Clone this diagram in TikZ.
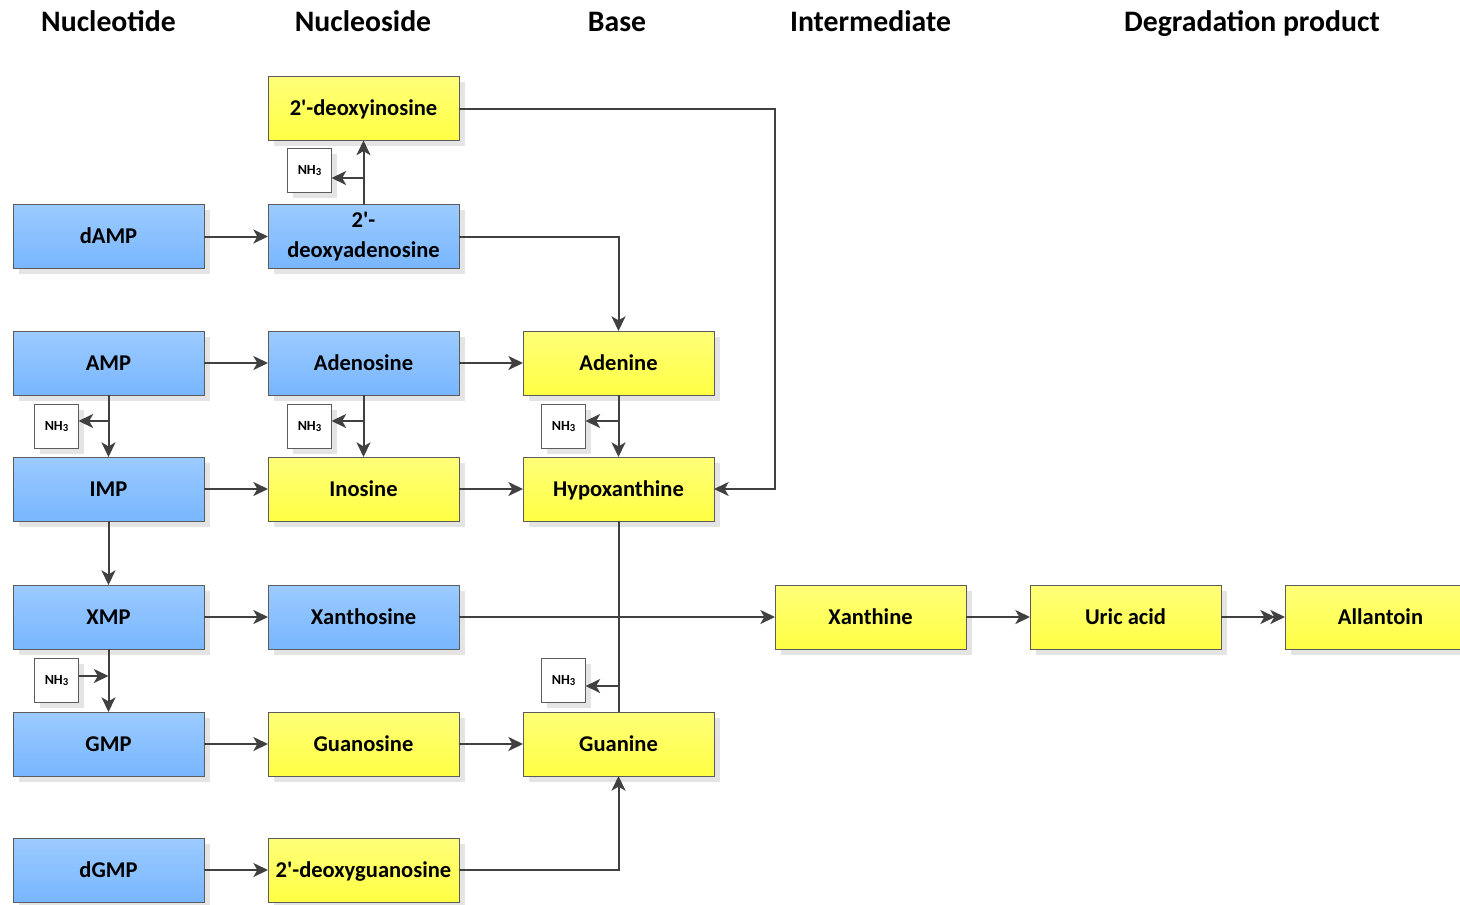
\documentclass[tikz,border=0pt]{standalone}
\usepackage{fontspec}
\setmainfont{Carlito}
\usetikzlibrary{arrows.meta,shadows}
\definecolor{linegray}{HTML}{404040}
\definecolor{boxgray}{HTML}{5C5C5C}
\definecolor{shadowgray}{HTML}{E4E4E4}
\definecolor{bluetop}{HTML}{9CCBFF}
\definecolor{bluebot}{HTML}{78B6FF}
\definecolor{yeltop}{HTML}{FFFF7A}
\definecolor{yelbot}{HTML}{FFFF44}
\newcommand{\ap}{\textquotesingle}
\tikzset{
  shadowed/.style={drop shadow={shadow xshift=4.2pt, shadow yshift=-4.2pt, fill=shadowgray, opacity=1}},
  box/.style={draw=boxgray, line width=0.75pt, minimum width=143.25pt, minimum height=48pt,
    inner sep=0pt, outer sep=0pt, align=center, shadowed, text height=13.5pt, text depth=2.8pt,
    font=\fontsize{16.9}{22.5}\bfseries\selectfont},
  twoline/.style={text height=, text depth=},
  bluebox/.style={box, top color=bluetop, bottom color=bluebot},
  yelbox/.style={box, top color=yeltop, bottom color=yelbot},
  nhbox/.style={draw=boxgray, fill=white, line width=0.75pt, minimum width=33pt, minimum height=33.5pt,
    inner sep=0pt, outer sep=0pt, shadowed, font=\fontsize{10.5}{11}\bfseries\selectfont},
  heading/.style={font=\fontsize{22.3}{26}\bfseries\selectfont, inner sep=0pt, text height=15pt, text depth=1.5pt},
  link/.style={draw=linegray, line width=1.5pt},
  arr/.style={link, -{Stealth[length=11pt,width=10.5pt,inset=3pt]}},
  arrtwo/.style={link, -{Stealth[length=11pt,width=10.5pt,inset=3pt,sep=-3.5pt]Stealth[length=11pt,width=10.5pt,inset=3pt]}}
}
\newcommand{\nhthree}{NH\raisebox{-0.28ex}{\fontsize{8}{8}\selectfont 3}}
\begin{document}
\begin{tikzpicture}[x=0.75pt,y=-0.75pt]
\useasboundingbox (0,0) rectangle (1460,904);

% column headings
\node[heading] (h1) at (108.5,22) {Nucleotide};
\node[heading] (h2) at (363,22) {Nucleoside};
\node[heading] (h3) at (617,22) {Base};
\node[heading] (h4) at (870.5,22) {Intermediate};
\node[heading] (h5) at (1252,22) {Degradation product};

% nucleotides
\node[bluebox] (damp) at (108.5,236.5) {dAMP};
\node[bluebox] (amp)  at (108.5,363) {AMP};
\node[bluebox] (imp)  at (108.5,489) {IMP};
\node[bluebox] (xmp)  at (108.5,617) {XMP};
\node[bluebox] (gmp)  at (108.5,744) {GMP};
\node[bluebox] (dgmp) at (108.5,870) {dGMP};

% nucleosides
\node[yelbox]  (dino) at (363.5,108.5) {2\ap-deoxyinosine};
\node[bluebox, twoline] (dado) at (363.5,236.5) {2\ap-\\deoxyadenosine};
\node[bluebox] (ado)  at (363.5,363) {Adenosine};
\node[yelbox]  (ino)  at (363.5,489) {Inosine};
\node[bluebox] (xao)  at (363.5,617) {Xanthosine};
\node[yelbox]  (guo)  at (363.5,744) {Guanosine};
\node[yelbox]  (dguo) at (363.5,870) {2\ap-deoxyguanosine};

% bases
\node[yelbox] (ade)   at (618.5,363) {Adenine};
\node[yelbox] (hyp)   at (618.5,489) {Hypoxanthine};
\node[yelbox] (gua)   at (618.5,744) {Guanine};

% degradation chain
\node[yelbox] (xan)   at (870.5,617) {Xanthine};
\node[yelbox] (uric)  at (1125.5,617) {Uric acid};
\node[yelbox] (allan) at (1380.5,617) {Allantoin};

% ammonia released or consumed
\node[nhbox] (n1) at (309.5,170.5) {\nhthree};
\node[nhbox] (n2) at (56.5,426.5) {\nhthree};
\node[nhbox] (n3) at (309.5,426.5) {\nhthree};
\node[nhbox] (n4) at (563.5,426.5) {\nhthree};
\node[nhbox] (n5) at (56.5,680.5) {\nhthree};
\node[nhbox] (n6) at (563.5,680.5) {\nhthree};

% branch points on vertical links
\coordinate (b1) at (363.5,178);
\coordinate (b2) at (108.5,421);
\coordinate (b3) at (363.5,421);
\coordinate (b4) at (618.5,421);
\coordinate (b5) at (108.5,676);
\coordinate (b6) at (618.5,686);
\coordinate (j1) at (618.5,617);
\coordinate (t1) at (775,108.5);

% horizontal steps
\draw[arr] (damp) -- (dado);
\draw[arr] (amp) -- (ado);
\draw[arr] (ado) -- (ade);
\draw[arr] (imp) -- (ino);
\draw[arr] (ino) -- (hyp);
\draw[arr] (xmp) -- (xao);
\draw[arr] (xao) -- (xan);
\draw[arr] (gmp) -- (guo);
\draw[arr] (guo) -- (gua);
\draw[arr] (dgmp) -- (dguo);
\draw[arr] (xan) -- (uric);
\draw[arrtwo] (uric) -- (allan);

% vertical steps
\draw[arr] (dado.north) -- (dino.south);
\draw[arr] (amp.south) -- (imp.north);
\draw[arr] (ado.south) -- (ino.north);
\draw[arr] (ade.south) -- (hyp.north);
\draw[arr] (imp.south) -- (xmp.north);
\draw[arr] (xmp.south) -- (gmp.north);

% deamination branches
\draw[arr] (b1) -- (b1 -| n1.east);
\draw[arr] (b2) -- (b2 -| n2.east);
\draw[arr] (b3) -- (b3 -| n3.east);
\draw[arr] (b4) -- (b4 -| n4.east);
\draw[arr] (b5 -| n5.east) -- (b5);
\draw[arr] (b6) -- (b6 -| n6.east);

% routed links
\draw[arr] (dado.east) -| (ade.north);
\draw[arr] (dino.east) -- (t1) |- (hyp.east);
\draw[arr] (dguo.east) -| (gua.south);
\draw[link] (hyp.south) -- (j1);
\draw[link] (gua.north) -- (j1);
\end{tikzpicture}
\end{document}
